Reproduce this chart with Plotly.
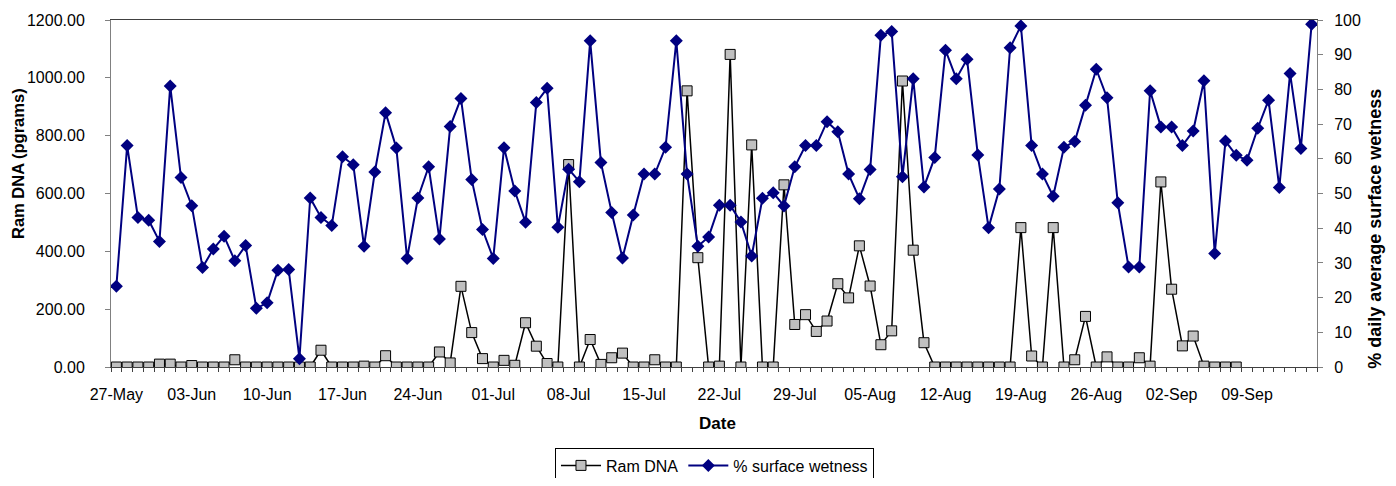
import pandas as pd
import plotly.graph_objects as go

# ---------------- data ----------------
start_date = "2007-05-27"

wetness = [
    23.3, 63.8, 43.1, 42.3, 36.2, 81.0, 54.6, 46.5, 28.7, 34.0,
    37.7, 30.6, 35.0, 16.9, 18.5, 27.9, 28.1, 2.4, 48.7, 43.1,
    40.8, 60.6, 58.3, 34.8, 56.2, 73.3, 63.1, 31.3, 48.7, 57.7,
    36.9, 69.3, 77.4, 54.0, 39.6, 31.3, 63.2, 50.7, 41.7, 76.2,
    80.3, 40.3, 57.0, 53.4, 94.0, 58.9, 44.5, 31.4, 43.8, 55.6,
    55.6, 63.3, 94.0, 55.6, 34.8, 37.5, 46.6, 46.6, 41.8, 32.0,
    48.6, 50.2, 46.4, 57.7, 63.8, 63.8, 70.7, 67.8, 55.6, 48.5,
    56.9, 95.6, 96.7, 54.8, 83.1, 51.9, 60.4, 91.3, 83.1, 88.7,
    61.1, 40.1, 51.3, 92.0, 98.3, 63.8, 55.6, 49.2, 63.3, 65.0,
    75.4, 85.8, 77.6, 47.3, 28.8, 28.8, 79.6, 69.2, 69.2, 63.8,
    68.0, 82.5, 32.7, 65.1, 61.0, 59.6, 68.8, 76.9, 51.7, 84.6,
    63.0, 98.8,
]

ram_dna = [
    0, 0, 0, 0, 10, 10, 0, 5, 0, 0,
    0, 25, 0, 0, 0, 0, 0, 0, 0, 58,
    0, 0, 0, 3, 0, 39, 0, 0, 0, 0,
    52, 14, 279, 119, 29, 0, 23, 6, 153, 72,
    12, 0, 700, 0, 95, 9, 32, 48, 0, 0,
    25, 0, 0, 955, 378, 0, 3, 1081, 0, 768,
    0, 0, 630, 147, 181, 123, 159, 288, 239, 419,
    280, 77, 125, 989, 404, 84, 0, 0, 0, 0,
    0, 0, 0, 0, 482, 38, 0, 482, 0, 25,
    175, 0, 35, 0, 0, 32, 3, 640, 269, 73,
    107, 3, 0, 0, 0,
]

tick_labels = ["27-May", "03-Jun", "10-Jun", "17-Jun", "24-Jun", "01-Jul",
               "08-Jul", "15-Jul", "22-Jul", "29-Jul", "05-Aug", "12-Aug",
               "19-Aug", "26-Aug", "02-Sep", "09-Sep"]

dna_ticks = [0, 200, 400, 600, 800, 1000, 1200]
wet_ticks = [0, 10, 20, 30, 40, 50, 60, 70, 80, 90, 100]

# ---------------- derived ----------------
dates = pd.date_range(start_date, periods=len(wetness), freq="D")
dna_dates = dates[:len(ram_dna)]
tick_vals = list(dates[::7][:len(tick_labels)])
half = pd.Timedelta(hours=12)
boundaries = [d - half for d in dates] + [dates[-1] + half]

FONT = "Liberation Sans, Arial, sans-serif"
AXIS_GREY = "#808080"

fig = go.Figure()

fig.add_trace(go.Scatter(
    x=dna_dates, y=ram_dna, name="Ram DNA", mode="lines+markers",
    line=dict(color="black", width=1.5),
    marker=dict(symbol="square", size=10, color="#C0C0C0",
                line=dict(color="black", width=1)),
    yaxis="y",
))

fig.add_trace(go.Scatter(
    x=dates, y=wetness, name="% surface wetness", mode="lines+markers",
    line=dict(color="#000080", width=2),
    marker=dict(symbol="diamond", size=10, color="#000080",
                line=dict(color="#000080", width=0)),
    yaxis="y2",
))

# the page body has an 8px margin, so the figure is slightly smaller
fig.update_layout(
    width=1380, height=470, autosize=False,
    margin=dict(l=103, r=71, t=12, b=111, autoexpand=False),
    paper_bgcolor="white", plot_bgcolor="white",
    font=dict(family=FONT, size=16, color="black"),
    showlegend=True,
    legend=dict(
        orientation="h", x=0.5004, xanchor="center", y=-0.232, yanchor="top",
        bordercolor="black", borderwidth=1, bgcolor="white",
        font=dict(family=FONT, size=16, color="black"),
        itemwidth=40, tracegroupgap=0,
    ),
    xaxis=dict(
        type="date",
        range=[dates[0] - half, dates[-1] + half],
        tickmode="array", tickvals=tick_vals, ticktext=tick_labels,
        ticks="", showgrid=False, zeroline=False,
        showline=True, linecolor="#404040", linewidth=1, mirror=True,
        ticklabelstandoff=13,
        tickfont=dict(family=FONT, size=16, color="black"),
        minor=dict(tickmode="array", tickvals=boundaries, ticks="outside",
                   ticklen=4, tickcolor="#404040", tickwidth=1, showgrid=False),
    ),
    yaxis=dict(
        range=[0, 1200], tickmode="array", tickvals=dna_ticks,
        tickformat=".2f", ticks="outside", ticklen=5, tickcolor=AXIS_GREY,
        showline=True, linecolor=AXIS_GREY, linewidth=1,
        showgrid=False, zeroline=False, ticklabelstandoff=17,
        tickfont=dict(family=FONT, size=16, color="black"),
    ),
    yaxis2=dict(
        range=[0, 100], tickmode="array", tickvals=wet_ticks,
        overlaying="y", side="right", ticks="outside", ticklen=5,
        tickcolor=AXIS_GREY, showline=True, linecolor=AXIS_GREY, linewidth=1,
        showgrid=False, zeroline=False, ticklabelstandoff=8,
        tickfont=dict(family=FONT, size=16, color="black"),
    ),
    annotations=[
        dict(text="<b>Ram DNA (pgrams)</b>", xref="paper", yref="paper",
             x=-0.0771, y=0.585, textangle=-90, showarrow=False,
             xanchor="center", yanchor="middle",
             font=dict(family=FONT, size=16.5, color="black")),
        dict(text="<b>% daily average surface wetness</b>", xref="paper",
             yref="paper", x=1.048, y=0.398, textangle=-90, showarrow=False,
             xanchor="center", yanchor="middle",
             font=dict(family=FONT, size=18, color="black")),
        dict(text="<b>Date</b>", xref="paper", yref="paper",
             x=0.5025, y=-0.162, showarrow=False,
             xanchor="center", yanchor="middle",
             font=dict(family=FONT, size=17, color="black")),
    ],
)

fig.write_html("out.html")
